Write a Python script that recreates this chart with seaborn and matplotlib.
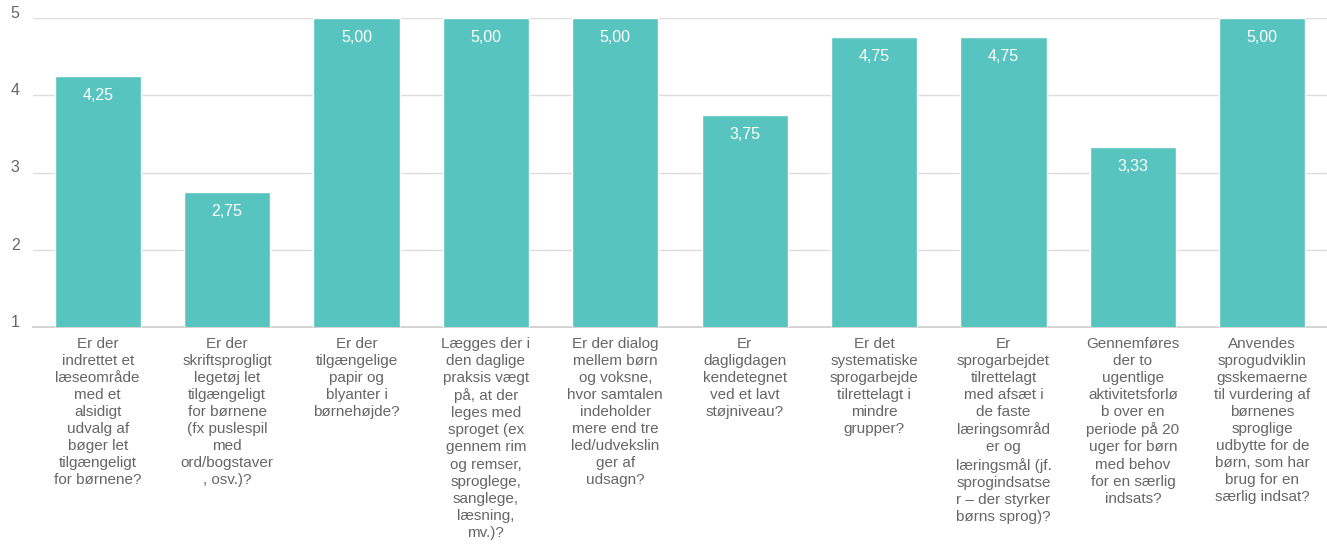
import matplotlib
matplotlib.use("Agg")
import matplotlib.pyplot as plt
import seaborn as sns
import pandas as pd

questions = [
    "Er der\nindrettet et\nlæseområde\nmed et\nalsidigt\nudvalg af\nbøger let\ntilgængeligt\nfor børnene?",
    "Er der\nskriftsprogligt\nlegetøj let\ntilgængeligt\nfor børnene\n(fx puslespil\nmed\nord/bogstaver\n, osv.)?",
    "Er der\ntilgængelige\npapir og\nblyanter i\nbørnehøjde?",
    "Lægges der i\nden daglige\npraksis vægt\npå, at der\nleges med\nsproget (ex\ngennem rim\nog remser,\nsproglege,\nsanglege,\nlæsning,\nmv.)?",
    "Er der dialog\nmellem børn\nog voksne,\nhvor samtalen\nindeholder\nmere end tre\nled/udvekslin\nger af\nudsagn?",
    "Er\ndagligdagen\nkendetegnet\nved et lavt\nstøjniveau?",
    "Er det\nsystematiske\nsprogarbejde\ntilrettelagt i\nmindre\ngrupper?",
    "Er\nsprogarbejdet\ntilrettelagt\nmed afsæt i\nde faste\nlæringsområd\ner og\nlæringsmål (jf.\nsprogindsatse\nr – der styrker\nbørns sprog)?",
    "Gennemføres\nder to\nugentlige\naktivitetsforlø\nb over en\nperiode på 20\nuger for børn\nmed behov\nfor en særlig\nindsats?",
    "Anvendes\nsprogudviklin\ngsskemaerne\ntil vurdering af\nbørnenes\nsproglige\nudbytte for de\nbørn, som har\nbrug for en\nsærlig indsat?",
]
scores = [4.25, 2.75, 5.00, 5.00, 5.00, 3.75, 4.75, 4.75, 3.33, 5.00]
y_ticks = [1, 2, 3, 4, 5]

df = pd.DataFrame({"q": questions, "score": scores})

sns.set_theme(style="white")
plt.rcParams["font.family"] = ["Liberation Sans", "DejaVu Sans"]

fig = plt.figure(figsize=(13.27, 5.45), dpi=100)
ax = fig.add_axes([33/1327, 1-327/545, 1-33/1327, (327-18)/545])

sns.barplot(data=df, x="q", y="score", color="#57C4BF", saturation=1,
            width=0.665, ax=ax, zorder=3)

ax.set_ylim(1, 5)
ax.set_xlim(-0.5, len(questions)-0.5)
ax.set_yticks(y_ticks)
ax.set_yticklabels([str(t) for t in y_ticks], color="#666666", fontsize=11.5)
ax.tick_params(axis="y", length=0, pad=16)
ax.tick_params(axis="x", length=0, pad=7)
for lab in ax.get_yticklabels():
    lab.set_verticalalignment("baseline")
    lab.set_horizontalalignment("left")
for lab in ax.get_xticklabels():
    lab.set_fontsize(11)
    lab.set_color("#666666")
    lab.set_linespacing(1.28)
    lab.set_verticalalignment("top")
ax.set_xlabel("")
ax.set_ylabel("")
for t in y_ticks[1:]:
    ax.axhline(t, color="#dddddd", lw=1, zorder=1)
for s in ["top", "right", "left"]:
    ax.spines[s].set_visible(False)
ax.spines["bottom"].set_color("#cccccc")
ax.spines["bottom"].set_linewidth(1.2)

for i, v in enumerate(scores):
    ax.text(i, v - 0.155, f"{v:.2f}".replace(".", ","), ha="center", va="top",
            color="white", fontsize=11.5, zorder=4)

fig.savefig("out.png", dpi=100)
